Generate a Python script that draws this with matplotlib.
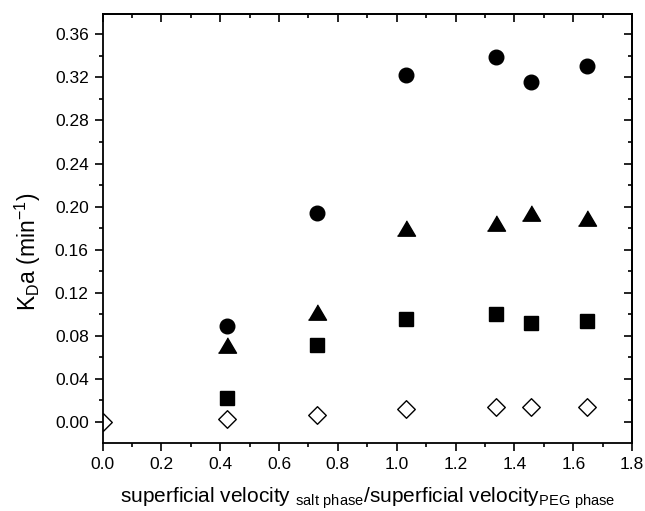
import numpy as np
import matplotlib.pyplot as plt
from matplotlib.ticker import MultipleLocator

plt.rcParams['font.family'] = ['Liberation Sans', 'DejaVu Sans']
plt.rcParams['mathtext.default'] = 'regular'

# velocity ratio (salt phase / PEG phase)
ratio = [0.424, 0.730, 1.033, 1.339, 1.456, 1.645]

# KDa values (min^-1) per series
kda_circle = [0.0896, 0.1945, 0.322, 0.3387, 0.316, 0.3306]
kda_triangle = [0.0719, 0.1025, 0.180, 0.1846, 0.194, 0.1894]
kda_square = [0.0223, 0.0711, 0.0952, 0.1002, 0.0921, 0.0934]
# open diamonds, first point sits at the origin (clipped by the axis)
ratio_diamond = [0.0, 0.424, 0.730, 1.033, 1.339, 1.456, 1.645]
kda_diamond = [0.0, 0.003, 0.0061, 0.0123, 0.0139, 0.0139, 0.0139]

fig = plt.figure(figsize=(6.45, 5.11), dpi=100)
ax = fig.add_axes([0.159, 0.133, 0.821, 0.840])

tri = [(-1, -0.85), (1, -0.85), (0, 0.85)]

ax.plot(ratio, kda_circle, 'o', color='black', ms=10.5, ls='none')
ax.plot(ratio, kda_triangle, marker=tri, color='black', ms=13, ls='none')
ax.plot(ratio, kda_square, 's', color='black', ms=9.5, ls='none')
sc = ax.scatter(ratio_diamond, kda_diamond, marker='D', s=80, facecolor='white',
                edgecolor='black', linewidth=1.0, zorder=3)
sc.set_clip_path(ax.patch)

ax.set_xlim(0, 1.8)
ax.set_ylim(-0.0195, 0.379)
ax.xaxis.set_major_locator(MultipleLocator(0.2))
ax.xaxis.set_minor_locator(MultipleLocator(0.1))
ax.yaxis.set_major_locator(MultipleLocator(0.04))
ax.yaxis.set_minor_locator(MultipleLocator(0.02))
ax.xaxis.set_major_formatter(plt.FormatStrFormatter('%.1f'))
ax.yaxis.set_major_formatter(plt.FormatStrFormatter('%.2f'))

for s in ax.spines.values():
    s.set_linewidth(1.3)
    s.set_zorder(4)

ax.tick_params(which='both', direction='out', width=1.2, labelsize=12.5,
               top=False, right=False)
ax.tick_params(which='major', length=6, pad=4)
ax.tick_params(which='minor', length=3)

# inward ticks on the top and right side
for side in ['top', 'right']:
    sec = ax.secondary_xaxis('top') if side == 'top' else ax.secondary_yaxis('right')
    sec.tick_params(which='both', direction='in', width=1.2, labelleft=False,
                    labelright=False, labeltop=False, labelbottom=False)
    sec.tick_params(which='major', length=6)
    sec.tick_params(which='minor', length=3)
    axis = sec.xaxis if side == 'top' else sec.yaxis
    if side == 'top':
        axis.set_major_locator(MultipleLocator(0.2))
        axis.set_minor_locator(MultipleLocator(0.1))
    else:
        axis.set_major_locator(MultipleLocator(0.04))
        axis.set_minor_locator(MultipleLocator(0.02))
    sec.spines[side].set_linewidth(1.3)

ax.set_xlabel(r'superficial velocity $_{salt\ phase}$/superficial velocity$_{PEG\ phase}$',
              fontsize=15, labelpad=10)
ax.set_ylabel(r'K$_D$a (min$^{-1}$)', fontsize=16.5)
ax.yaxis.set_label_coords(-0.112, 0.445)

fig.savefig('out.png', dpi=100)
